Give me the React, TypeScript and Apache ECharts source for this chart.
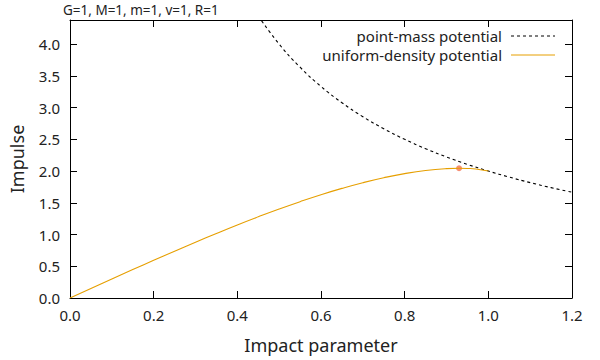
import React, { useEffect, useRef } from "react";
import * as echarts from "echarts";

const titleText = "G=1, M=1, m=1, v=1, R=1";
const xLabel = "Impact parameter";
const yLabel = "Impulse";
const legendNames = ["point-mass potential", "uniform-density potential"];

const pointMassB = [0.45, 0.5, 0.55, 0.6, 0.65, 0.7, 0.75, 0.8, 0.85, 0.9, 0.95, 1.0, 1.05, 1.1, 1.15, 1.2];
const pointMassI = [4.444, 4.0, 3.636, 3.333, 3.077, 2.857, 2.667, 2.5, 2.353, 2.222, 2.105, 2.0, 1.905, 1.818, 1.739, 1.667];

const uniformB = [0, 0.05, 0.1, 0.15, 0.2, 0.25, 0.3, 0.35, 0.4, 0.45, 0.5, 0.55, 0.6, 0.65, 0.7, 0.75, 0.8, 0.85, 0.9, 0.93, 0.95, 0.97, 1.0];
const uniformI = [0, 0.150, 0.299, 0.448, 0.594, 0.738, 0.879, 1.017, 1.151, 1.279, 1.402, 1.518, 1.627, 1.727, 1.817, 1.895, 1.96, 2.009, 2.038, 2.044, 2.041, 2.032, 2.0];

const peakPoint = [0.93, 2.044];

const FONT = "Noto Sans";

export default function App() {
  const ref = useRef<HTMLDivElement>(null);
  useEffect(() => {
    if (!ref.current) return;
    const chart = echarts.init(ref.current, null, { renderer: "svg" });
    const axisCommon = {
      axisLine: { show: true, onZero: false, lineStyle: { color: "#000", width: 1 } },
      axisTick: { show: true, inside: true, length: 7, lineStyle: { color: "#000" } },
      splitLine: { show: false },
    };
    chart.setOption({
      animation: false,
      backgroundColor: "#fff",
      textStyle: { fontFamily: FONT },
      grid: { left: 68, right: 28, top: 20, bottom: 62 },
      xAxis: [
        {
          type: "value", min: 0, max: 1.2, interval: 0.2, position: "bottom",
          ...axisCommon,
          axisLabel: { color: "#222", fontSize: 15, margin: 9, fontFamily: FONT, formatter: (v: number) => v.toFixed(1) },
          name: xLabel, nameLocation: "middle", nameGap: 38,
          nameTextStyle: { color: "#222", fontSize: 18, fontFamily: FONT },
        },
        {
          type: "value", min: 0, max: 1.2, interval: 0.2, position: "top",
          ...axisCommon, axisLabel: { show: false },
        },
      ],
      yAxis: [
        {
          type: "value", min: 0, max: 4.38, interval: 0.5, position: "left",
          ...axisCommon,
          axisLabel: { color: "#222", fontSize: 15, margin: 10, fontFamily: FONT, showMaxLabel: false, formatter: (v: number) => v.toFixed(1) },
          name: yLabel, nameLocation: "middle", nameGap: 44, nameRotate: 90,
          nameTextStyle: { color: "#222", fontSize: 18, fontFamily: FONT },
        },
        {
          type: "value", min: 0, max: 4.38, interval: 0.5, position: "right",
          ...axisCommon, axisLabel: { show: false },
        },
      ],
      graphic: [
        { type: "text", left: 63, top: 3, style: { text: titleText, fill: "#222", fontSize: 13.5, fontFamily: FONT } },
        { type: "text", x: 502, y: 36, style: { text: legendNames[0], fill: "#222", fontSize: 15, lineHeight: 17, fontFamily: FONT, align: "right", verticalAlign: "middle" } },
        { type: "line", shape: { x1: 511, y1: 36, x2: 555, y2: 36 }, style: { stroke: "#000", lineWidth: 1, lineDash: [3, 3] } },
        { type: "text", x: 502, y: 55, style: { text: legendNames[1], fill: "#222", fontSize: 15, lineHeight: 17, fontFamily: FONT, align: "right", verticalAlign: "middle" } },
        { type: "line", shape: { x1: 511, y1: 55, x2: 555, y2: 55 }, style: { stroke: "#e69f00", lineWidth: 1 } },
      ],
      series: [
        {
          type: "line", name: legendNames[0], smooth: true, showSymbol: false, clip: true,
          data: pointMassB.map((b, i) => [b, pointMassI[i]]),
          lineStyle: { color: "#000", width: 1.1, type: [3, 3] },
        },
        {
          type: "line", name: legendNames[1], smooth: true, showSymbol: false, clip: true,
          data: uniformB.map((b, i) => [b, uniformI[i]]),
          lineStyle: { color: "#e69f00", width: 1.1 },
        },
        {
          type: "scatter", data: [peakPoint], symbolSize: 6,
          itemStyle: { color: "#f47a5c", opacity: 0.85 },
        },
      ],
    });
    return () => chart.dispose();
  }, []);
  return <div ref={ref} style={{ width: 600, height: 360, position: "absolute", left: 0, top: 0 }} />;
}
